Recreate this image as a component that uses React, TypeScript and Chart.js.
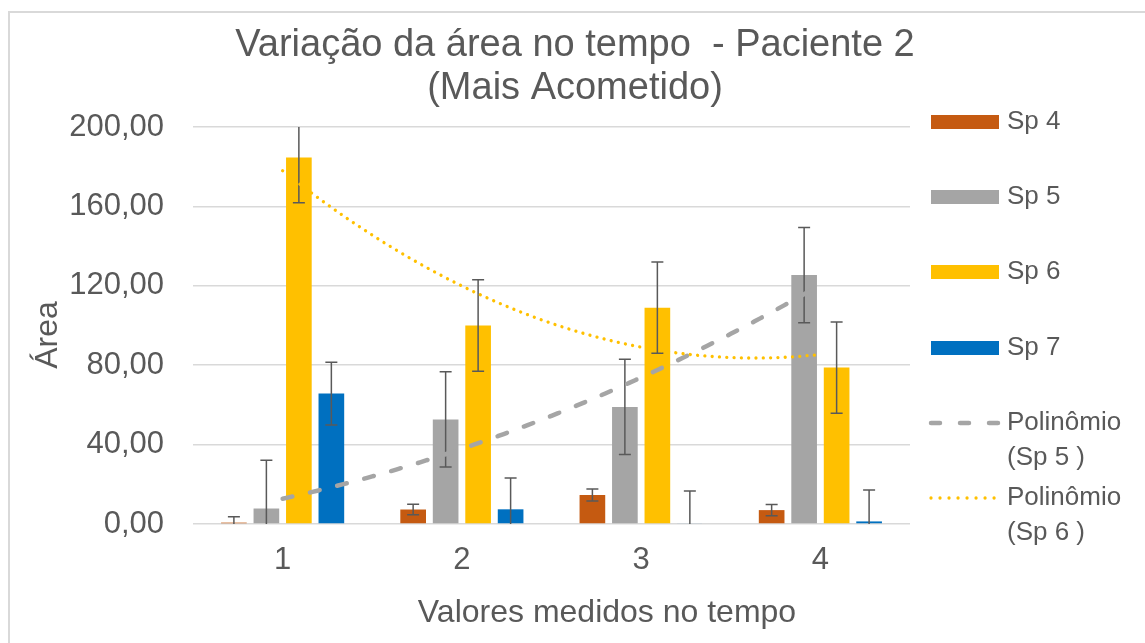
import React, { useEffect, useRef } from "react";
import { Chart, registerables } from "chart.js";

Chart.register(...registerables);

const categories = ["1", "2", "3", "4"];
const seriesLabels = ["Sp 4", "Sp 5", "Sp 6", "Sp 7"];
const sp4 = [0.7, 7.3, 14.6, 7.0];
const sp5 = [7.8, 52.7, 59.0, 125.4];
const sp6 = [184.6, 100.0, 109.0, 78.8];
const sp7 = [65.7, 7.4, 0.4, 1.3];
const sp4Err = [3.0, 2.7, 3.0, 2.8];
const sp5Err = [24.3, 24.0, 24.0, 24.0];
const sp6Err = [22.7, 23.0, 23.0, 23.0];
const sp7Err = [15.8, 15.8, 16.2, 15.8];
const yTicks = [0, 40, 80, 120, 160, 200];
const trendLabels = ["Polinômio\n(Sp 5 )", "Polinômio\n(Sp 6 )"];
const titleLines = ["Variação da área no tempo  - Paciente 2", "(Mais Acometido)"];
const xTitle = "Valores medidos no tempo";
const yTitle = "Área";

const colors = ["#C55A11", "#A5A5A5", "#FFC000", "#0070C0"];
const TEXT = "#595959";
const FONT = '"Liberation Sans", Arial, sans-serif';

// Least-squares 2nd-order polynomial trendline (Excel "Polinômio") fitted to a series at x = 1..n
function polyfit2(ys: number[]): [number, number, number] {
  let s0 = 0, s1 = 0, s2 = 0, s3 = 0, s4 = 0, t0 = 0, t1 = 0, t2 = 0;
  ys.forEach((y, i) => {
    const x = i + 1;
    s0 += 1; s1 += x; s2 += x * x; s3 += x ** 3; s4 += x ** 4;
    t0 += y; t1 += x * y; t2 += x * x * y;
  });
  const M = [
    [s0, s1, s2, t0],
    [s1, s2, s3, t1],
    [s2, s3, s4, t2],
  ];
  for (let c = 0; c < 3; c++) {
    for (let r = c + 1; r < 3; r++) {
      const f = M[r][c] / M[c][c];
      for (let k = c; k < 4; k++) M[r][k] -= f * M[c][k];
    }
  }
  const sol = [0, 0, 0];
  for (let r = 2; r >= 0; r--) {
    let s = M[r][3];
    for (let k = r + 1; k < 3; k++) s -= M[r][k] * sol[k];
    sol[r] = s / M[r][r];
  }
  return [sol[0], sol[1], sol[2]];
}

const trends = [
  { label: trendLabels[0], source: sp5, color: "#A5A5A5", width: 4.5, dash: [10, 18], legendDash: [9, 20] },
  { label: trendLabels[1], source: sp6, color: "#FFC000", width: 3.3, dash: [0.01, 7.3], legendDash: [0.01, 9] },
];

const fmt = (v: number) => v.toFixed(2).replace(".", ",");

const decorPlugin = {
  id: "decor",
  afterDatasetDraw(chart: any, args: any) {
    const ds = chart.data.datasets[args.index];
    if (!ds.errors) return;
    const { ctx, chartArea } = chart;
    const ys = chart.scales.y;
    ctx.save();
    ctx.beginPath();
    ctx.rect(chartArea.left, chartArea.top, chartArea.right - chartArea.left, chartArea.bottom - chartArea.top);
    ctx.clip();
    ctx.strokeStyle = "#595959";
    ctx.lineWidth = 1.5;
    args.meta.data.forEach((el: any, i: number) => {
      const v = ds.data[i];
      const e = ds.errors[i];
      const x = el.x;
      const yt = ys.getPixelForValue(v + e);
      const yb = ys.getPixelForValue(v - e);
      ctx.beginPath();
      ctx.moveTo(x, yt);
      ctx.lineTo(x, yb);
      ctx.moveTo(x - 6, yt);
      ctx.lineTo(x + 6, yt);
      ctx.moveTo(x - 6, yb);
      ctx.lineTo(x + 6, yb);
      ctx.stroke();
    });
    ctx.restore();
  },
  afterDatasetsDraw(chart: any) {
    const { ctx } = chart;
    const xs = chart.scales.x;
    const ys = chart.scales.y;
    trends.forEach((t) => {
      const [a, b, c] = polyfit2(t.source);
      const n = t.source.length;
      const steps = 90;
      ctx.save();
      ctx.strokeStyle = t.color;
      ctx.lineWidth = t.width;
      ctx.lineCap = "round";
      ctx.lineJoin = "round";
      ctx.setLineDash(t.dash);
      ctx.beginPath();
      for (let i = 0; i <= steps; i++) {
        const xv = 1 + ((n - 1) * i) / steps;
        const px = xs.getPixelForValue(xv - 1);
        const py = ys.getPixelForValue(a + b * xv + c * xv * xv);
        if (i === 0) ctx.moveTo(px, py);
        else ctx.lineTo(px, py);
      }
      ctx.stroke();
      ctx.restore();
    });
  },
  afterDraw(chart: any) {
    const { ctx } = chart;
    ctx.save();
    ctx.fillStyle = TEXT;
    // chart title
    ctx.font = `38px ${FONT}`;
    ctx.textAlign = "center";
    ctx.textBaseline = "alphabetic";
    ctx.fillText(titleLines[0], 575, 56);
    ctx.fillText(titleLines[1], 575, 99);
    // x axis title
    ctx.font = `32px ${FONT}`;
    ctx.fillText(xTitle, 607, 622);
    // y axis title
    ctx.save();
    ctx.translate(57, 335);
    ctx.rotate(-Math.PI / 2);
    ctx.fillText(yTitle, 0, 0);
    ctx.restore();
    // legend
    const centers = [122, 197, 272, 348, 423, 498];
    const items: any[] = [
      ...chart.data.datasets.map((ds: any) => ({ kind: "box", label: ds.label, color: ds.backgroundColor })),
      ...trends.map((t) => ({ kind: "line", label: t.label, color: t.color, width: t.width, dash: t.legendDash })),
    ];
    ctx.font = `26px ${FONT}`;
    ctx.textAlign = "left";
    ctx.textBaseline = "middle";
    items.forEach((it, k) => {
      const cy = centers[k];
      if (it.kind === "line") {
        ctx.save();
        ctx.strokeStyle = it.color;
        ctx.lineWidth = it.width;
        ctx.lineCap = "round";
        ctx.setLineDash(it.dash);
        ctx.beginPath();
        ctx.moveTo(931, cy);
        ctx.lineTo(999, cy);
        ctx.stroke();
        ctx.restore();
      } else {
        ctx.fillStyle = it.color;
        ctx.fillRect(931, cy - 7, 68, 14);
      }
      ctx.fillStyle = TEXT;
      String(it.label)
        .split("\n")
        .forEach((line: string, li: number) => ctx.fillText(line, 1007, cy + li * 35));
    });
    ctx.restore();
  },
};

export default function App() {
  const ref = useRef<HTMLCanvasElement | null>(null);

  useEffect(() => {
    if (!ref.current) return;
    const series = [sp4, sp5, sp6, sp7];
    const errs = [sp4Err, sp5Err, sp6Err, sp7Err];
    const barSets: any[] = series.map((d, i) => ({
      label: seriesLabels[i],
      data: d,
      errors: errs[i],
      backgroundColor: colors[i],
      borderWidth: 0,
      categoryPercentage: 0.725,
      barPercentage: 0.79,
    }));
    const chart = new Chart(ref.current, {
      type: "bar",
      data: { labels: categories, datasets: barSets },
      options: {
        responsive: false,
        animation: false,
        devicePixelRatio: 1,
        layout: { autoPadding: false, padding: { top: 127, right: 235, bottom: 0, left: 0 } },
        plugins: {
          legend: { display: false },
          title: { display: false },
          tooltip: { enabled: false },
        },
        scales: {
          x: {
            type: "category",
            offset: true,
            grid: { display: false, drawTicks: false },
            border: { display: false },
            ticks: { color: TEXT, font: { size: 31, family: FONT }, padding: 18 },
            afterFit: (s: any) => {
              s.height = 119;
            },
          },
          y: {
            min: 0,
            max: 200,
            grid: { color: "#D9D9D9", lineWidth: 1.5, drawTicks: false },
            border: { display: false },
            ticks: {
              color: TEXT,
              font: { size: 31, family: FONT },
              padding: 29,
              callback: (v: any) => fmt(Number(v)),
            },
            afterBuildTicks: (s: any) => {
              s.ticks = yTicks.map((v) => ({ value: v }));
            },
            afterFit: (s: any) => {
              s.width = 193;
            },
          },
        },
      } as any,
      plugins: [decorPlugin],
    });
    return () => chart.destroy();
  }, []);

  return (
    <div
      style={{
        position: "fixed",
        left: 0,
        top: 0,
        width: 1145,
        height: 643,
        overflow: "hidden",
        background: "#fff",
      }}
    >
      <div
        style={{
          position: "absolute",
          left: 8,
          top: 11,
          width: 1300,
          height: 800,
          border: "2px solid #D9D9D9",
        }}
      />
      <canvas
        ref={ref}
        width={1145}
        height={643}
        style={{ position: "absolute", left: 0, top: 0, width: 1145, height: 643 }}
      />
    </div>
  );
}
